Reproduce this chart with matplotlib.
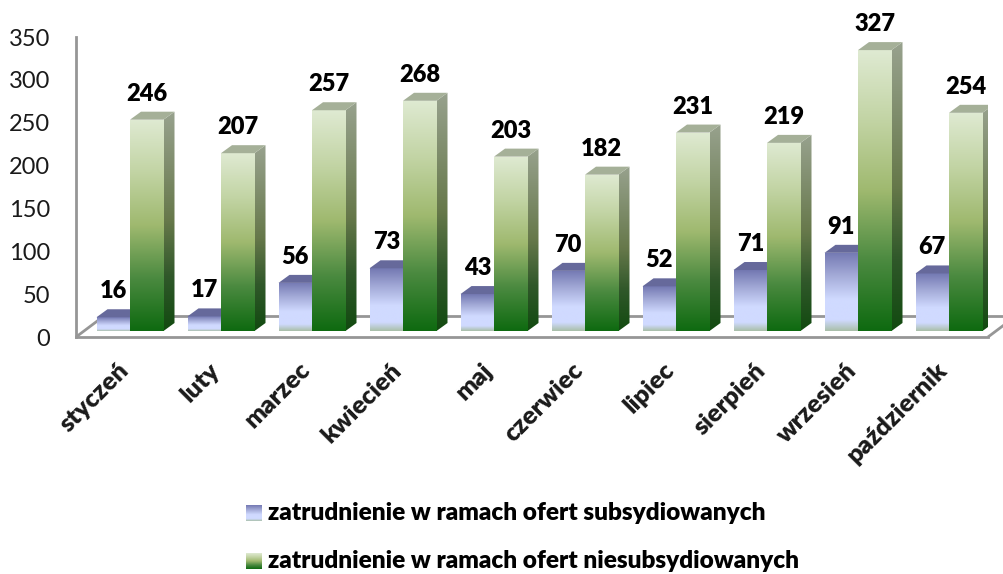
import numpy as np
import matplotlib
matplotlib.use('Agg')
import matplotlib.pyplot as plt
from matplotlib.colors import LinearSegmentedColormap
from matplotlib.patches import Polygon

months = ['styczeń', 'luty', 'marzec', 'kwiecień', 'maj', 'czerwiec', 'lipiec', 'sierpień', 'wrzesień', 'październik']
subsydiowane = [16, 17, 56, 73, 43, 70, 52, 71, 91, 67]
niesubsydiowane = [246, 207, 257, 268, 203, 182, 231, 219, 327, 254]
legend_labels = ['zatrudnienie w ramach ofert subsydiowanych', 'zatrudnienie w ramach ofert niesubsydiowanych']
y_ticks = [0, 50, 100, 150, 200, 250, 300, 350]

W, H = 1004, 574
plt.rcParams['font.family'] = ['Lato', 'DejaVu Sans']

blue_front = LinearSegmentedColormap.from_list('bf', [(0, '#7378b2'), (0.3, '#a4abd8'), (0.6, '#d0daff'), (0.86, '#d0daff'), (1, '#a9bfa8')])
blue_side = LinearSegmentedColormap.from_list('bs', [(0, '#50537d'), (0.6, '#7a80a8'), (1, '#6d7a6d')])
green_front = LinearSegmentedColormap.from_list('gf', [(0, '#dfead2'), (0.25, '#c2d4a4'), (0.5, '#9fb96f'), (0.75, '#4b8a40'), (1, '#0e6a10')])
green_side = LinearSegmentedColormap.from_list('gs', [(0, '#98a28e'), (0.5, '#66784a'), (0.75, '#30582a'), (1, '#124a10')])
grad = np.linspace(0, 1, 256).reshape(-1, 1)


def px_axes(left, top, right, bottom):
    return [left / W, 1 - bottom / H, (right - left) / W, (bottom - top) / H]


def draw_poly(ax, pts, cmap, box, z):
    # gradient image clipped to a polygon
    im = ax.imshow(grad, cmap=cmap, extent=box, aspect='auto', origin='upper', zorder=z, interpolation='bilinear')
    clip = Polygon(pts, closed=True, transform=ax.transData, fc='none', ec='none')
    ax.add_patch(clip)
    im.set_clip_path(clip)


def draw_bar(ax, x0, val, front, side, top_col, z):
    x1 = x0 + bar_w
    draw_poly(ax, [(x0, 0), (x1, 0), (x1, val), (x0, val)], front, (x0, x1, 0, val), z)
    draw_poly(ax, [(x1, 0), (x1 + dep_x, dep_y), (x1 + dep_x, val + dep_y), (x1, val)], side, (x1, x1 + dep_x, 0, val + dep_y), z)
    ax.add_patch(Polygon([(x0, val), (x1, val), (x1 + dep_x, val + dep_y), (x0 + dep_x, val + dep_y)], closed=True, fc=top_col, ec='none', zorder=z))
    ax.annotate(str(val), (x0 + bar_w / 2, val), xytext=(0, 26), textcoords='offset pixels', ha='center', va='center',
                fontsize=17, fontweight='heavy', color='black', zorder=100)


fig = plt.figure(figsize=(W / 100, H / 100), dpi=100, facecolor='white')

# back wall and floor frame
pitch = 91.0
ax0 = fig.add_axes(px_axes(76, 37, 988, 337))
x_lim = ((76 - 130) / pitch, (988 - 130) / pitch)
ax0.set_xlim(x_lim)
ax0.set_ylim(0, 350)
ax0.set_xticks([])
ax0.set_yticks(y_ticks)
ax0.tick_params(axis='y', length=0, pad=18.5, labelsize=17, labelcolor='#1a1a1a')
for s in ['top', 'right']:
    ax0.spines[s].set_visible(False)
for s in ['left', 'bottom']:
    ax0.spines[s].set_color('#969696')
    ax0.spines[s].set_linewidth(2)
floor_dx, floor_dy = 28 / pitch, 21 / 0.857
line_kw = dict(color='#969696', lw=2, clip_on=False, solid_capstyle='butt')
ax0.plot([x_lim[0], x_lim[0] + floor_dx], [0, floor_dy], **line_kw)
ax0.plot([x_lim[1], x_lim[1] + floor_dx], [0, floor_dy], **line_kw)
ax0.plot([x_lim[0] + floor_dx, x_lim[1] + floor_dx], [floor_dy, floor_dy], **line_kw)

# bars
ax = fig.add_axes(px_axes(76, 331 - 350 * 0.859, 988, 331))
ax.patch.set_alpha(0)
for s in ax.spines.values():
    s.set_visible(False)
bar_w = 33.5 / pitch
dep_x, dep_y = 11 / pitch, 8 / 0.859
z = 2
for i in range(len(months)):
    draw_bar(ax, i - bar_w, subsydiowane[i], blue_front, blue_side, '#66699b', z)
    draw_bar(ax, i, niesubsydiowane[i], green_front, green_side, '#a5b098', z + 1)
    z += 2
ax.set_xlim(x_lim)
ax.set_ylim(0, 350)
ax.set_yticks([])
ax.set_xticks([i - 0.14 for i in range(len(months))])
ax.set_xticklabels(months, rotation=45, ha='right', va='top', rotation_mode='anchor', fontsize=18.2, fontweight='heavy', color='#1a1a1a')
ax.tick_params(axis='x', length=0, pad=20)

# legend
for k, (lab, cm, ytop) in enumerate(zip(legend_labels, [blue_front, green_front], [505, 553])):
    sw = fig.add_axes(px_axes(246, ytop, 262, ytop + 16))
    sw.imshow(grad, cmap=cm, aspect='auto', interpolation='bilinear')
    sw.axis('off')
    fig.text(268 / W, 1 - (ytop + 8) / H, lab, fontsize=17.6, fontweight='heavy', color='black', ha='left', va='center')

fig.savefig('out.png', dpi=100, facecolor='white')
